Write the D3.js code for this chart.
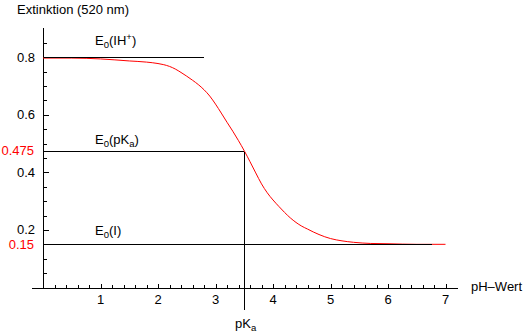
<!DOCTYPE html>
<html>
<head>
<meta charset="utf-8">
<script src="https://cdn.jsdelivr.net/npm/d3@7/dist/d3.min.js"></script>
<style>
	body { margin: 0; background: #fff; }
	svg text { font-family: "Liberation Sans", Arial, sans-serif; font-size: 13px; }
</style>
</head>
<body>
<div id="viz"></div>
<script>
// titration curve
var phValues   = [0, 0.5, 1.0, 1.5, 1.8, 2.0, 2.1, 2.2, 2.3, 2.4, 2.5, 2.6, 2.7, 2.8, 2.9, 3.0, 3.1, 3.2, 3.3, 3.4, 3.5, 3.6, 3.7, 3.8, 3.9, 4.0, 4.1, 4.2, 4.3, 4.4, 4.5, 4.6, 4.7, 4.8, 5.0, 5.2, 5.4, 5.7, 6.0, 6.5, 7.0];
var extinction = [0.797, 0.797, 0.794, 0.787, 0.783, 0.778, 0.774, 0.768, 0.759, 0.747, 0.734, 0.720, 0.705, 0.687, 0.665, 0.637, 0.606, 0.574, 0.543, 0.510, 0.475, 0.437, 0.398, 0.360, 0.329, 0.304, 0.282, 0.261, 0.242, 0.226, 0.213, 0.203, 0.193, 0.184, 0.170, 0.162, 0.157, 0.153, 0.152, 0.150, 0.150];

// horizontal reference lines E0(...)
var refNames  = ["IH+", "pKa", "I"];
var refValues = [0.8, 0.475, 0.15];
var refEnds   = [2.8, 3.5, 6.77];
var pKa = 3.5;

var xTicks = [1, 2, 3, 4, 5, 6, 7];
var yTicks = [0.2, 0.4, 0.6, 0.8];
var redTicks = [0.475, 0.15];

var width = 526, height = 334;

var svg = d3.select("#viz")
	.append("svg")
	.attr("width", width)
	.attr("height", height);

var x = d3.scaleLinear().domain([0, 7]).range([43, 445.5]);
var y = d3.scaleLinear().domain([0, 0.8]).range([287.5, 57.2]);

function px(v){ return Math.round(v) + 0.5; }

var axes = svg.append("g")
	.attr("stroke", "black")
	.attr("stroke-width", 1)
	.attr("shape-rendering", "crispEdges");

// x axis
axes.append("line")
	.attr("x1", x(-0.19)).attr("x2", x(7.22))
	.attr("y1", px(y(0))).attr("y2", px(y(0)));
axes.selectAll("line.xt")
	.data(d3.range(1, 36).map(function(d){ return d * 0.2; }))
	.enter().append("line")
	.attr("class", "xt")
	.attr("x1", function(d){ return px(x(d)); })
	.attr("x2", function(d){ return px(x(d)); })
	.attr("y1", px(y(0)))
	.attr("y2", function(d){ return px(y(0)) - (Math.abs(d - Math.round(d)) < 1e-6 ? 5 : 4); });

// y axis
axes.append("line")
	.attr("x1", px(x(0))).attr("x2", px(x(0)))
	.attr("y1", px(y(0))).attr("y2", y(0.9));
axes.selectAll("line.yt")
	.data(d3.range(1, 18).map(function(d){ return d * 0.05; }))
	.enter().append("line")
	.attr("class", "yt")
	.attr("x1", px(x(0)))
	.attr("x2", function(d){ return px(x(0)) + (d3.range(1,5).some(function(k){ return Math.abs(d - k*0.2) < 1e-6; }) ? 5 : 3); })
	.attr("y1", function(d){ return px(y(d)); })
	.attr("y2", function(d){ return px(y(d)); });

// tick labels
svg.selectAll("text.xl")
	.data(xTicks)
	.enter().append("text")
	.attr("x", function(d){ return x(d); })
	.attr("y", 304)
	.attr("text-anchor", "middle")
	.text(function(d){ return d; });

svg.selectAll("text.yl")
	.data(yTicks)
	.enter().append("text")
	.attr("x", 35)
	.attr("y", function(d){ return y(d) + 4.5; })
	.attr("text-anchor", "end")
	.text(function(d){ return d3.format(".1f")(d); });

svg.selectAll("text.rl")
	.data(redTicks)
	.enter().append("text")
	.attr("x", 34)
	.attr("y", function(d){ return y(d) + 4.5; })
	.attr("text-anchor", "end")
	.attr("fill", "red")
	.text(function(d){ return d; });

// the curve
var line = d3.line()
	.x(function(d){ return x(d[0]); })
	.y(function(d){ return y(d[1]); })
	.curve(d3.curveMonotoneX);

svg.append("path")
	.datum(d3.zip(phValues, extinction))
	.attr("d", line)
	.attr("fill", "none")
	.attr("stroke", "red")
	.attr("stroke-width", 1);

// reference lines
var refs = svg.append("g")
	.attr("stroke", "black")
	.attr("shape-rendering", "crispEdges");
refs.selectAll("line")
	.data(d3.range(refValues.length))
	.enter().append("line")
	.attr("x1", px(x(0)))
	.attr("x2", function(i){ return x(refEnds[i]); })
	.attr("y1", function(i){ return px(y(refValues[i])); })
	.attr("y2", function(i){ return px(y(refValues[i])); });

refs.append("line")
	.attr("x1", px(x(pKa))).attr("x2", px(x(pKa)))
	.attr("y1", px(y(0.475))).attr("y2", 310);

// labels E0(...)
var labelDy = [13, 8, 10];
refNames.forEach(function(name, i){
	var t = svg.append("text")
		.attr("x", 95)
		.attr("y", px(y(refValues[i])) - labelDy[i]);
	t.append("tspan").text("E");
	t.append("tspan").attr("dy", 3).attr("font-size", "9.5px").text("0");
	if (name == "IH+") {
		t.append("tspan").attr("dy", -3).text("(IH");
		t.append("tspan").attr("dy", -5).attr("font-size", "9.5px").text("+");
		t.append("tspan").attr("dy", 5).text(")");
	} else if (name == "pKa") {
		t.append("tspan").attr("dy", -3).text("(pK");
		t.append("tspan").attr("dy", 3).attr("font-size", "9.5px").text("a");
		t.append("tspan").attr("dy", -3).text(")");
	} else {
		t.append("tspan").attr("dy", -3).text("(I)");
	}
});

// axis titles
svg.append("text").attr("x", 17).attr("y", 14).text("Extinktion (520 nm)");
svg.append("text").attr("x", 471).attr("y", 291).text("pH\u2013Wert");

var pk = svg.append("text").attr("x", 235).attr("y", 328);
pk.append("tspan").text("pK");
pk.append("tspan").attr("dy", 3).attr("font-size", "9.5px").text("a");
</script>
</body>
</html>
